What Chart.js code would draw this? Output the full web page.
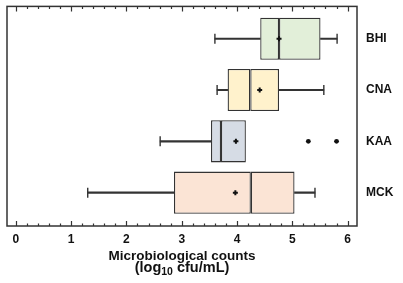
<!DOCTYPE html>
<html>
<head>
<meta charset="utf-8">
<script src="https://cdn.jsdelivr.net/npm/chart.js@4/dist/chart.umd.min.js"></script>
<style>
  html, body { margin: 0; padding: 0; background: #fff; }
  #wrap { width: 403px; height: 283px; }
</style>
</head>
<body>
<div id="wrap"><canvas id="chart-box"></canvas></div>
<script>
// media categories, top to bottom
const categories = ['BHI', 'CNA', 'KAA', 'MCK'];
// box plot stats, log10 cfu/mL
const whiskerLow = [3.60, 3.64, 2.61, 1.30];
const q1 = [4.42, 3.83, 3.53, 2.86];
const median = [4.76, 4.24, 3.71, 4.25];
const q3 = [5.51, 4.76, 4.16, 5.04];
const whiskerHigh = [5.81, 5.57, null, 5.41];
const means = [4.76, 4.41, 3.98, 3.97];
// outliers (category index, value)
const outlierCat = [2, 2];
const outlierVal = [5.29, 5.80];
const xTicks = [0, 1, 2, 3, 4, 5, 6];

const boxColors = ['#e2efd9', '#fff2cc', '#d6dce5', '#fbe4d5'];
const edge = '#333333';
const FONT = 'Liberation Sans';

const pos = i => i + 1;

function boxPart(lo, hi) {
  return categories.map((c, i) => ({ y: pos(i), x: [lo[i], hi[i]] }));
}

function whiskerPart(lo, hi) {
  return categories.map((c, i) => (lo[i] == null || hi[i] == null) ? null : ({ y: pos(i), x: [lo[i], hi[i]] })).filter(d => d);
}

const capData = [];
categories.forEach((c, i) => {
  if (whiskerLow[i] != null) capData.push({ x: whiskerLow[i], y: pos(i) });
  if (whiskerHigh[i] != null) capData.push({ x: whiskerHigh[i], y: pos(i) });
});

// frame + inward ticks + axis title with a real subscript
const framePlugin = {
  id: 'frame',
  afterDraw(chart) {
    const { ctx, chartArea: a, scales: { x } } = chart;
    ctx.save();
    ctx.strokeStyle = edge;
    ctx.lineWidth = 1.5;
    ctx.strokeRect(a.left, a.top, a.right - a.left, a.bottom - a.top);
    ctx.lineWidth = 1.2;
    ctx.beginPath();
    for (let i = 0; i <= 30; i++) {
      const px = Math.round(x.getPixelForValue(i / 5)) + 0.5;
      const len = i % 5 === 0 ? 5 : 2.5;
      ctx.moveTo(px, a.bottom);
      ctx.lineTo(px, a.bottom - len);
      ctx.moveTo(px, a.top);
      ctx.lineTo(px, a.top + len);
    }
    ctx.stroke();

    const cx = (a.left + a.right) / 2;
    const big = `bold 13.5px "${FONT}"`;
    const big2 = `bold 14.5px "${FONT}"`;
    const small = `bold 10.5px "${FONT}"`;
    ctx.fillStyle = '#111';
    ctx.textBaseline = 'alphabetic';
    ctx.textAlign = 'left';
    ctx.font = big;
    const l1 = 'Microbiological counts';
    const y1 = a.bottom + 34;
    ctx.fillText(l1, cx - ctx.measureText(l1).width / 2, y1);

    const y2 = y1 + 12;
    const pA = '(log', pB = '10', pC = ' cfu/mL)';
    ctx.font = big2;
    const wA = ctx.measureText(pA).width, wC = ctx.measureText(pC).width;
    ctx.font = small;
    const wB = ctx.measureText(pB).width;
    let sx = cx - (wA + wB + wC) / 2;
    ctx.font = big2;
    ctx.fillText(pA, sx, y2);
    sx += wA;
    ctx.font = small;
    ctx.fillText(pB, sx, y2 + 2.5);
    sx += wB;
    ctx.font = big2;
    ctx.fillText(pC, sx, y2);
    ctx.restore();
  }
};

new Chart(document.getElementById('chart-box'), {
  type: 'bar',
  data: {
    datasets: [
      {
        type: 'scatter',
        label: 'Mean',
        data: categories.map((c, i) => ({ x: means[i], y: pos(i) })),
        pointStyle: 'cross',
        radius: 2.5,
        borderWidth: 2,
        borderColor: '#111',
        backgroundColor: '#111'
      },
      {
        type: 'scatter',
        label: 'Outliers',
        data: outlierVal.map((v, k) => ({ x: v, y: pos(outlierCat[k]) })),
        pointStyle: 'circle',
        radius: 2.4,
        borderWidth: 0,
        backgroundColor: '#111'
      },
      {
        label: 'Q1-Median',
        data: boxPart(q1, median),
        backgroundColor: boxColors,
        borderColor: edge,
        borderWidth: 1.3,
        borderSkipped: false,
        grouped: false,
        barPercentage: 0.82,
        categoryPercentage: 1
      },
      {
        label: 'Median-Q3',
        data: boxPart(median, q3),
        backgroundColor: boxColors,
        borderColor: edge,
        borderWidth: 1.3,
        borderSkipped: false,
        grouped: false,
        barPercentage: 0.82,
        categoryPercentage: 1
      },
      {
        label: 'Whisker low',
        data: whiskerPart(whiskerLow, q1),
        backgroundColor: edge,
        borderWidth: 0,
        grouped: false,
        barThickness: 1.5
      },
      {
        label: 'Whisker high',
        data: whiskerPart(q3, whiskerHigh),
        backgroundColor: edge,
        borderWidth: 0,
        grouped: false,
        barThickness: 1.5
      },
      {
        type: 'scatter',
        label: 'Caps',
        data: capData,
        pointStyle: 'line',
        rotation: 90,
        radius: 5,
        borderWidth: 1.4,
        borderColor: edge
      }
    ]
  },
  options: {
    indexAxis: 'y',
    responsive: true,
    maintainAspectRatio: false,
    animation: false,
    layout: { padding: { left: 7, top: 5, right: 0, bottom: 0 } },
    plugins: {
      legend: { display: false },
      tooltip: { enabled: false }
    },
    scales: {
      x: {
        type: 'linear',
        position: 'bottom',
        min: -0.16,
        max: 6.17,
        offset: false,
        afterFit: s => { s.height = 57; s.paddingLeft = 0; s.paddingRight = 0; },
        afterBuildTicks: s => { s.ticks = xTicks.map(v => ({ value: v })); },
        grid: { display: false, drawTicks: false },
        border: { display: false },
        ticks: {
          autoSkip: false,
          padding: 6,
          color: '#111',
          font: { family: FONT, size: 12, weight: 'bold' }
        },
        title: { display: false }
      },
      y: {
        type: 'linear',
        position: 'right',
        reverse: true,
        min: 0.37,
        max: 4.65,
        offset: false,
        afterFit: s => { s.width = 46; s.paddingTop = 0; s.paddingBottom = 0; },
        grid: { display: false, drawTicks: false },
        border: { display: false },
        ticks: {
          stepSize: 1,
          includeBounds: false,
          padding: 9,
          color: '#111',
          font: { family: FONT, size: 12, weight: 'bold' },
          callback: v => categories[v - 1] || ''
        }
      }
    }
  },
  plugins: [framePlugin]
});
</script>
</body>
</html>
